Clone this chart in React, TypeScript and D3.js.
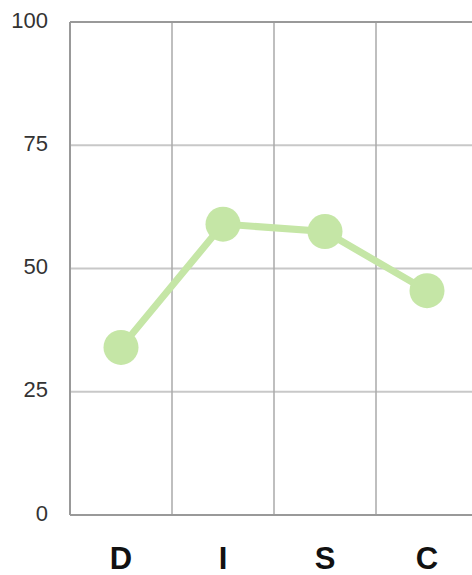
import * as d3 from 'd3';
import React from 'react';

// seeder data
const categories = ['D', 'I', 'S', 'C'];
const scores = [34, 59, 57.5, 45.5];
const yTicks = [0, 25, 50, 75, 100];

const W = 472;
const H = 575;
const margin = { top: 22, right: -6, bottom: 60, left: 70 };

export default function App() {
	const x = d3.scaleBand()
		.domain(categories)
		.range([margin.left, W - margin.right])
		.padding(0);

	const y = d3.scaleLinear()
		.domain([0, 100])
		.range([H - margin.bottom, margin.top]);

	const pts = categories.map((c, i) => [x(c)! + x.bandwidth() / 2, y(scores[i])] as [number, number]);
	const line = d3.line();

	const x0 = margin.left;
	const x1 = W - margin.right;

	return (
		<svg width={W} height={H} style={{ position: 'absolute', left: 0, top: 0, background: '#fff' }}
			fontFamily="'Liberation Sans', Arial, sans-serif">
			{/* horizontal grid */}
			{yTicks.filter(t => t > 0 && t < 100).map(t => (
				<line key={'h' + t} x1={x0} x2={x1} y1={y(t)} y2={y(t)} stroke="#c8c8c8" strokeWidth={2} />
			))}
			{/* vertical grid */}
			{categories.slice(1).map(c => (
				<line key={'v' + c} x1={x(c)} x2={x(c)} y1={y(100)} y2={y(0)} stroke="#aaa" strokeWidth={1.5} />
			))}
			{/* frame */}
			<line x1={x0} x2={x1} y1={y(100)} y2={y(100)} stroke="#999" strokeWidth={2} />
			<line x1={x0} x2={x1} y1={y(0)} y2={y(0)} stroke="#999" strokeWidth={2} />
			<line x1={x0} x2={x0} y1={y(100)} y2={y(0)} stroke="#999" strokeWidth={2} />

			{/* y labels */}
			{yTicks.map(t => (
				<text key={'t' + t} x={48} y={y(t)} dy="0.25em" textAnchor="end" fontSize={22} fill="#333">{t}</text>
			))}
			{/* x labels */}
			{categories.map(c => (
				<text key={'c' + c} x={x(c)! + x.bandwidth() / 2} y={569} textAnchor="middle" fontSize={31}
					fontWeight="bold" fill="#111">{c}</text>
			))}

			{/* series */}
			<path d={line(pts)!} fill="none" stroke="#c5e6a6" strokeWidth={7} />
			{pts.map((p, i) => (
				<circle key={'p' + i} cx={p[0]} cy={p[1]} r={17.5} fill="#c5e6a6" />
			))}
		</svg>
	);
}
